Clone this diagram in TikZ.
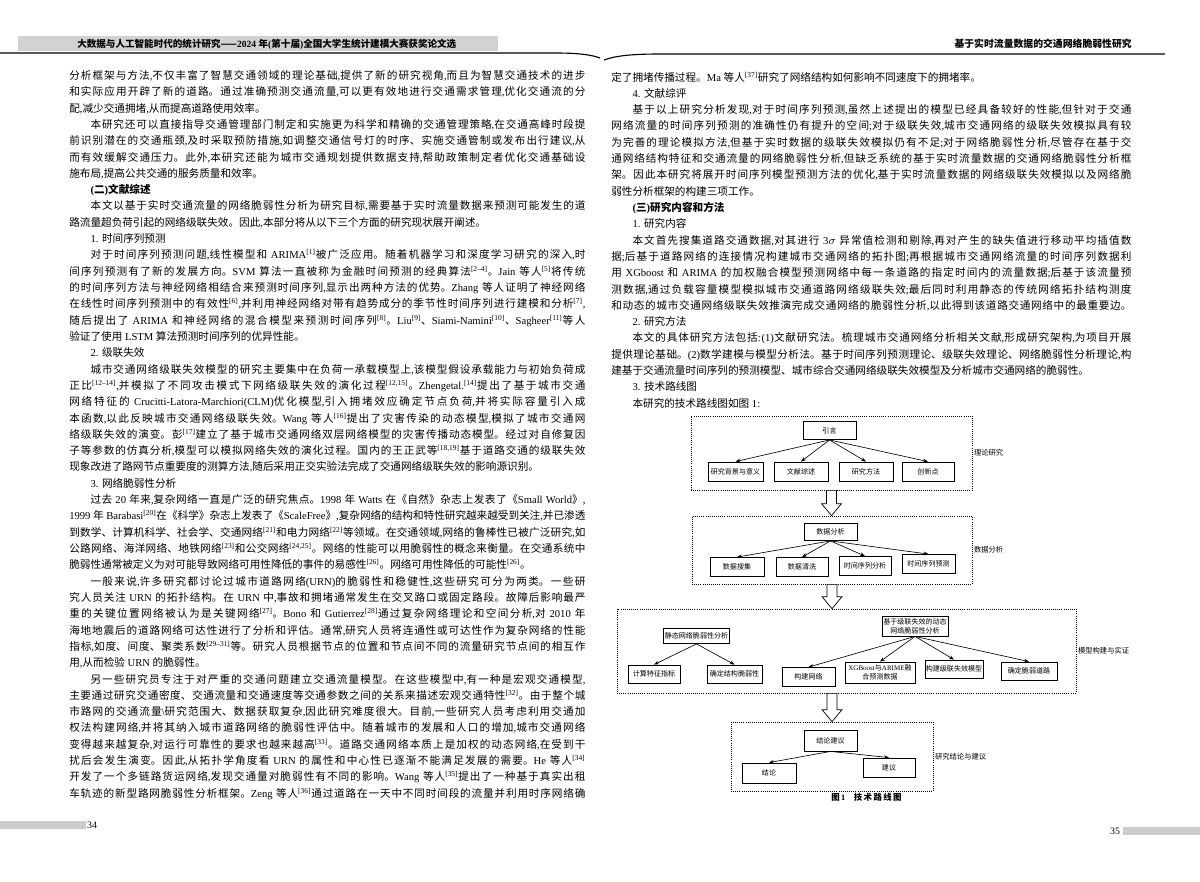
\documentclass[tikz,border=0pt]{standalone}
\usepackage{fontspec}
\setmainfont{Liberation Serif}
\newfontfamily\cjkfont{Noto Sans CJK SC}
\usetikzlibrary{positioning,calc,arrows.meta}

% chinese characters in the cjk font
\XeTeXlinebreaklocale "zh"
\XeTeXlinebreakskip=0pt plus 1pt minus 0.1pt
\tolerance=9999
\hbadness=10000
\hfuzz=4pt
\newcount\cjkc
\chardef\cjkcls=10
\newcommand\cjkrange[2]{\cjkc=#1\relax
  \loop\XeTeXcharclass\cjkc=\cjkcls
  \ifnum\cjkc<#2\relax\advance\cjkc by 1\repeat}
\cjkrange{"3000}{"303F}
\cjkrange{"4E00}{"9FFF}
\cjkrange{"FF00}{"FFEF}
\XeTeXcharclass"2014=\cjkcls
\XeTeXinterchartoks 0 \cjkcls={\begingroup\cjkfont}
\XeTeXinterchartoks 1 \cjkcls={\begingroup\cjkfont}
\XeTeXinterchartoks 2 \cjkcls={\begingroup\cjkfont}
\XeTeXinterchartoks 3 \cjkcls={\begingroup\cjkfont}
\XeTeXinterchartoks 4095 \cjkcls={\begingroup\cjkfont}
\XeTeXinterchartoks \cjkcls 0={\endgroup}
\XeTeXinterchartoks \cjkcls 1={\endgroup}
\XeTeXinterchartoks \cjkcls 2={\endgroup}
\XeTeXinterchartoks \cjkcls 3={\endgroup}
\XeTeXinterchartoks \cjkcls 4095={\endgroup}
\XeTeXinterchartokenstate=1

\newcommand\pxu{0.025cm}
\newcommand\rf[1]{\textsuperscript{[#1]}}
\newcommand\pind{\noindent\hspace*{2em}}

\begin{document}
\begin{tikzpicture}[x=0.025cm,y=-0.025cm,
  para/.style={inner sep=0pt, align=justify, anchor=base west, font={\fontsize{7.55}{11.6}\selectfont\lineskiplimit=-20pt\relax}},
  box/.style 2 args={draw, line width=0.6pt, fill=white, inner sep=0pt, align=center, font=\fontsize{5}{6.3}\selectfont, minimum width=#1*\pxu, minimum height=#2*\pxu},
  frame/.style={draw, densely dotted, line width=0.5pt, inner sep=0pt},
  side/.style={right=1pt of #1, inner sep=0pt, font=\fontsize{5.2}{6}\selectfont},
  tree/.style={-{Stealth[length=3.5pt,width=2.6pt]}, line width=0.45pt},
  bigarrow/.style={draw, fill=white, line width=0.5pt, to path={($(\tikztostart)+(-5,0)$) -- ($(\tikztostart)+(5,0)$) -- ($(\tikztostart |- \tikztotarget)+(5,-12)$) -- ($(\tikztostart |- \tikztotarget)+(10,-12)$) -- (\tikztostart |- \tikztotarget) -- ($(\tikztostart |- \tikztotarget)+(-10,-12)$) -- ($(\tikztostart |- \tikztotarget)+(-5,-12)$) -- cycle}}]
\fill[white] (0,0) rectangle (1200,881);
\useasboundingbox (0,0) rectangle (1200,881);

%headers
\fill[gray!35] (18,36) rectangle (498,51);
\node[anchor=west, inner sep=0pt, font=\fontsize{6.8}{8}\selectfont\bfseries] (h1) at (77,44) {大数据与人工智能时代的统计研究——2024 年(第十届)全国大学生统计建模大赛获奖论文选};
\draw[line width=0.8pt] (0,53) -- (555,53) .. controls (580,53) and (592,55) .. (600,58);
\node[anchor=east, inner sep=0pt, font=\fontsize{7}{8}\selectfont\bfseries] (h2) at (1132,44) {基于实时流量数据的交通网络脆弱性研究};
\draw[line width=0.8pt] (604,60) .. controls (615,56) and (630,54) .. (660,54) -- (1165,54);

%left page
\node[para, text width=12.9cm] (lefttext) at (69,79.5) {\noindent 分析框架与方法,不仅丰富了智慧交通领域的理论基础,提供了新的研究视角,而且为智慧交通技术的进步\linebreak
和实际应用开辟了新的道路。通过准确预测交通流量,可以更有效地进行交通需求管理,优化交通流的分\linebreak
配,减少交通拥堵,从而提高道路使用效率。\par
\pind 本研究还可以直接指导交通管理部门制定和实施更为科学和精确的交通管理策略,在交通高峰时段提\linebreak
前识别潜在的交通瓶颈,及时采取预防措施,如调整交通信号灯的时序、实施交通管制或发布出行建议,从\linebreak
而有效缓解交通压力。此外,本研究还能为城市交通规划提供数据支持,帮助政策制定者优化交通基础设\linebreak
施布局,提高公共交通的服务质量和效率。\par
\pind{\bfseries (二)文献综述}\par
\pind 本文以基于实时交通流量的网络脆弱性分析为研究目标,需要基于实时流量数据来预测可能发生的道\linebreak
路流量超负荷引起的网络级联失效。因此,本部分将从以下三个方面的研究现状展开阐述。\par
\pind 1. 时间序列预测\par
\pind 对于时间序列预测问题,线性模型和 ARIMA\rf{1}被广泛应用。随着机器学习和深度学习研究的深入,时\linebreak
间序列预测有了新的发展方向。SVM 算法一直被称为金融时间预测的经典算法\rf{2--4}。Jain 等人\rf{5}将传统\linebreak
的时间序列方法与神经网络相结合来预测时间序列,显示出两种方法的优势。Zhang 等人证明了神经网络\linebreak
在线性时间序列预测中的有效性\rf{6},并利用神经网络对带有趋势成分的季节性时间序列进行建模和分析\rf{7},\linebreak
随后提出了 ARIMA 和神经网络的混合模型来预测时间序列\rf{8}。Liu\rf{9}、Siami-Namini\rf{10}、Sagheer\rf{11}等人\linebreak
验证了使用 LSTM 算法预测时间序列的优异性能。\par
\pind 2. 级联失效\par
\pind 城市交通网络级联失效模型的研究主要集中在负荷一承载模型上,该模型假设承载能力与初始负荷成\linebreak
正比\rf{12--14},并模拟了不同攻击模式下网络级联失效的演化过程\rf{12,15}。Zhengetal.\rf{14}提出了基于城市交通\linebreak
网络特征的 Crucitti-Latora-Marchiori(CLM)优化模型,引入拥堵效应确定节点负荷,并将实际容量引入成\linebreak
本函数,以此反映城市交通网络级联失效。Wang 等人\rf{16}提出了灾害传染的动态模型,模拟了城市交通网\linebreak
络级联失效的演变。彭\rf{17}建立了基于城市交通网络双层网络模型的灾害传播动态模型。经过对自修复因\linebreak
子等参数的仿真分析,模型可以模拟网络失效的演化过程。国内的王正武等\rf{18,19}基于道路交通的级联失效\linebreak
现象改进了路网节点重要度的测算方法,随后采用正交实验法完成了交通网络级联失效的影响源识别。\par
\pind 3. 网络脆弱性分析\par
\pind 过去 20 年来,复杂网络一直是广泛的研究焦点。1998 年 Watts 在《自然》杂志上发表了《Small World》,\linebreak
1999 年 Barabasi\rf{20}在《科学》杂志上发表了《ScaleFree》,复杂网络的结构和特性研究越来越受到关注,并已渗透\linebreak
到数学、计算机科学、社会学、交通网络\rf{21}和电力网络\rf{22}等领域。在交通领域,网络的鲁棒性已被广泛研究,如\linebreak
公路网络、海洋网络、地铁网络\rf{23}和公交网络\rf{24,25}。网络的性能可以用脆弱性的概念来衡量。在交通系统中\linebreak
脆弱性通常被定义为对可能导致网络可用性降低的事件的易感性\rf{26}。网络可用性降低的可能性\rf{26}。\par
\pind 一般来说,许多研究都讨论过城市道路网络(URN)的脆弱性和稳健性,这些研究可分为两类。一些研\linebreak
究人员关注 URN 的拓扑结构。在 URN 中,事故和拥堵通常发生在交叉路口或固定路段。故障后影响最严\linebreak
重的关键位置网络被认为是关键网络\rf{27}。Bono 和 Gutierrez\rf{28}通过复杂网络理论和空间分析,对 2010 年\linebreak
海地地震后的道路网络可达性进行了分析和评估。通常,研究人员将连通性或可达性作为复杂网络的性能\linebreak
指标,如度、间度、聚类系数\rf{29--31}等。研究人员根据节点的位置和节点间不同的流量研究节点间的相互作\linebreak
用,从而检验 URN 的脆弱性。\par
\pind 另一些研究员专注于对严重的交通问题建立交通流量模型。在这些模型中,有一种是宏观交通模型,\linebreak
主要通过研究交通密度、交通流量和交通速度等交通参数之间的关系来描述宏观交通特性\rf{32}。由于整个城\linebreak
市路网的交通流量\textbackslash 研究范围大、数据获取复杂,因此研究难度很大。目前,一些研究人员考虑利用交通加\linebreak
权法构建网络,并将其纳入城市道路网络的脆弱性评估中。随着城市的发展和人口的增加,城市交通网络\linebreak
变得越来越复杂,对运行可靠性的要求也越来越高\rf{33}。道路交通网络本质上是加权的动态网络,在受到干\linebreak
扰后会发生演变。因此,从拓扑学角度看 URN 的属性和中心性已逐渐不能满足发展的需要。He 等人\rf{34}\linebreak
开发了一个多链路货运网络,发现交通量对脆弱性有不同的影响。Wang 等人\rf{35}提出了一种基于真实出租\linebreak
车轨迹的新型路网脆弱性分析框架。Zeng 等人\rf{36}通过道路在一天中不同时间段的流量并利用时序网络确{\parfillskip=0pt\par}};

%right page
\node[para, text width=13cm] (righttext) at (611,81) {\noindent 定了拥堵传播过程。Ma 等人\rf{37}研究了网络结构如何影响不同速度下的拥堵率。\par
\pind 4. 文献综评\par
\pind 基于以上研究分析发现,对于时间序列预测,虽然上述提出的模型已经具备较好的性能,但针对于交通\linebreak
网络流量的时间序列预测的准确性仍有提升的空间;对于级联失效,城市交通网络的级联失效模拟具有较\linebreak
为完善的理论模拟方法,但基于实时数据的级联失效模拟仍有不足;对于网络脆弱性分析,尽管存在基于交\linebreak
通网络结构特征和交通流量的网络脆弱性分析,但缺乏系统的基于实时流量数据的交通网络脆弱性分析框\linebreak
架。因此本研究将展开时间序列模型预测方法的优化,基于实时流量数据的网络级联失效模拟以及网络脆\linebreak
弱性分析框架的构建三项工作。\par
\pind{\bfseries (三)研究内容和方法}\par
\pind 1. 研究内容\par
\pind 本文首先搜集道路交通数据,对其进行 3$\sigma$ 异常值检测和剔除,再对产生的缺失值进行移动平均插值数\linebreak
据;后基于道路网络的连接情况构建城市交通网络的拓扑图;再根据城市交通网络流量的时间序列数据利\linebreak
用 XGboost 和 ARIMA 的加权融合模型预测网络中每一条道路的指定时间内的流量数据;后基于该流量预\linebreak
测数据,通过负载容量模型模拟城市交通道路网络级联失效;最后同时利用静态的传统网络拓扑结构测度\linebreak
和动态的城市交通网络级联失效推演完成交通网络的脆弱性分析,以此得到该道路交通网络中的最重要边。{\parfillskip=0pt\par}
\pind 2. 研究方法\par
\pind 本文的具体研究方法包括:(1)文献研究法。梳理城市交通网络分析相关文献,形成研究架构,为项目开展\linebreak
提供理论基础。(2)数学建模与模型分析法。基于时间序列预测理论、级联失效理论、网络脆弱性分析理论,构\linebreak
建基于交通流量时间序列的预测模型、城市综合交通网络级联失效模型及分析城市交通网络的脆弱性。\par
\pind 3. 技术路线图\par
\pind 本研究的技术路线图如图 1:};

%flowchart
%frame 1:
\node[frame, minimum width=281*\pxu, minimum height=74*\pxu] (f1) at (831.5,453) {};
\node[side=f1] (l1) {理论研究};
\node[box={53}{18}] (b1) at (829.5,430.5) {引言};
\node[box={55}{19}] (b2) at (735.5,471.5) {研究背景与意义};
\node[box={54}{19}] (b3) at (801,471.5) {文献综述};
\node[box={54}{19}] (b4) at (866,471.5) {研究方法};
\node[box={52}{19}] (b5) at (928,471.5) {创新点};
\draw[tree] (b1.south) -- (b2.north);
\draw[tree] (b1.south) -- (b3.north);
\draw[tree] (b1.south) -- (b4.north);
\draw[tree] (b1.south) -- (b5.north);

%frame 2:
\node[frame, minimum width=280*\pxu, minimum height=68*\pxu] (f2) at (832,550) {};
\node[side=f2] (l2) {数据分析};
\node[box={53}{17}] (b6) at (830.5,532) {数据分析};
\node[box={54}{19}] (b7) at (737,567) {数据搜集};
\node[box={52}{19}] (b8) at (802,567) {数据清洗};
\node[box={52}{19}] (b9) at (865,566) {时间序列分析};
\node[box={53}{19}] (b10) at (928.5,564) {时间序列预测};
\draw[tree] (b6.south) -- (b7.north);
\draw[tree] (b6.south) -- (b8.north);
\draw[tree] (b6.south) -- (b9.north);
\draw[tree] (b6.south) -- (b10.north);

%frame 3:
\node[frame, minimum width=459*\pxu, minimum height=84*\pxu] (f3) at (846.5,651) {};
\node[side=f3] (l3) {模型构建与实证};
\node[box={66}{15}] (b11) at (696.5,636) {静态网络脆弱性分析};
\node[box={66}{20}] (b12) at (915,626) {基于级联失效的动态\\网络脆弱性分析};
\node[box={52}{18}] (b13) at (654,674) {计算特征指标};
\node[box={55}{18}] (b14) at (734.5,674) {确定结构脆弱性};
\node[box={53}{19}] (b15) at (808.5,677) {构建网络};
\node[box={70}{21}] (b16) at (880,672.5) {XGBoost与ARIME融\\合预测数据};
\node[box={58}{18}] (b17) at (954,669) {构建级联失效模型};
\node[box={56}{18}] (b18) at (1029,671) {确定脆弱道路};
\draw[tree] (b11.south) -- (b13.north);
\draw[tree] (b11.south) -- (b14.north);
\draw[tree] (b12.south) -- (b15.north);
\draw[tree] (b12.south) -- (b16.north);
\draw[tree] (b12.south) -- (b17.north);
\draw[tree] (b12.south) -- (b18.north);

%frame 4:
\node[frame, minimum width=202*\pxu, minimum height=69*\pxu] (f4) at (832,756.5) {};
\node[side=f4] (l4) {研究结论与建议};
\node[box={53}{21}] (b19) at (830.5,740.5) {结论建议};
\node[box={54}{20}] (b20) at (769,773) {结论};
\node[box={52}{19}] (b21) at (889,767.5) {建议};
\draw[tree] (b19.south) -- (b20.north);
\draw[tree] (b19.south) -- (b21.north);

%big arrows between the frames
\coordinate (a3) at (f4.north |- f3.south);
\draw[bigarrow] (f1.south) to (f2.north);
\draw[bigarrow] (f2.south) to (f3.north);
\draw[bigarrow] (a3) to (f4.north);

\node[inner sep=0pt, font=\fontsize{6}{7}\selectfont\bfseries] (cap) at (866.5,797) {图\,1\quad 技\,术\,路\,线\,图};

%page numbers
\fill[gray!40] (0,821) rectangle (86,829);
\node[inner sep=0pt, font=\fontsize{7}{8}\selectfont] (pn1) at (92,825) {34};
\fill[gray!40] (1123,827) rectangle (1200,835);
\node[inner sep=0pt, font=\fontsize{7}{8}\selectfont] (pn2) at (1115,831) {35};
\end{tikzpicture}
\end{document}
